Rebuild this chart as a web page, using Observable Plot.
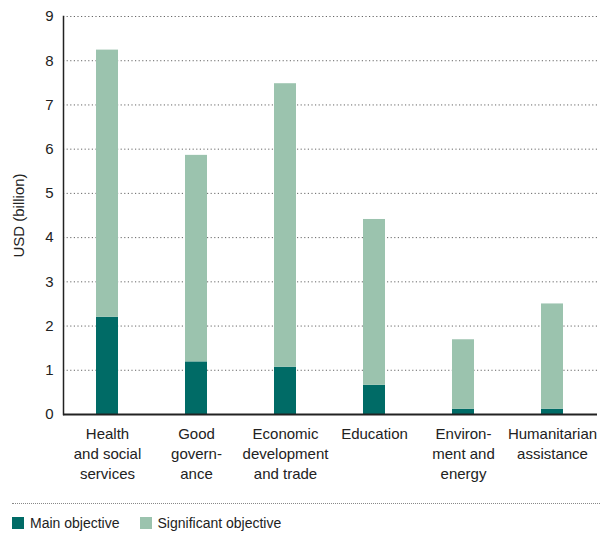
<!DOCTYPE html>
<html>
<head>
<meta charset="utf-8">
<script src="https://cdn.jsdelivr.net/npm/d3@7"></script>
<script src="https://cdn.jsdelivr.net/npm/@observablehq/plot@0.6"></script>
<style>
  body { margin: 0; background: #fff; font-family: "Liberation Sans", Arial, sans-serif; }
  #chart { width: 614px; }
  .rule { margin: 13px 14px 0 12px; border-top: 1.5px dotted #888; height: 0; }
  .legend { display: flex; align-items: center; margin: 11px 0 0 12px; font-size: 14px; color: #222; }
  .legend .sw { width: 12px; height: 12px; display: inline-block; margin-right: 6px; }
  .legend .item { display: flex; align-items: center; margin-right: 20px; }
</style>
</head>
<body>
<div id="chart"></div>
<script>
const categories = [
  "Health\nand social\nservices",
  "Good\ngovern-\nance",
  "Economic\ndevelopment\nand trade",
  "Education",
  "Environ-\nment and\nenergy",
  "Humanitarian\nassistance"
];
const mainObjective = [2.2, 1.19, 1.07, 0.66, 0.12, 0.12];
const totalObjective = [8.24, 5.86, 7.48, 4.41, 1.69, 2.5];
const significantObjective = totalObjective.map((t, i) => +(t - mainObjective[i]).toFixed(2));
const seriesNames = ["Main objective", "Significant objective"];
const seriesColors = ["#006B66", "#9BC3AE"];
const yTicks = [0, 1, 2, 3, 4, 5, 6, 7, 8, 9];

const data = [];
categories.forEach((c, i) => {
  data.push({category: c, series: seriesNames[0], value: mainObjective[i]});
  data.push({category: c, series: seriesNames[1], value: significantObjective[i]});
});

const plot = Plot.plot({
  width: 614,
  height: 490,
  marginTop: 16,
  marginBottom: 76,
  marginLeft: 63,
  marginRight: 17,
  style: {fontFamily: "Liberation Sans, Arial, sans-serif", fontSize: "14px", color: "#222"},
  x: {domain: categories, paddingInner: 0.75, paddingOuter: 0.375, align: 0.5},
  y: {domain: [0, 9], ticks: yTicks},
  color: {domain: seriesNames, range: seriesColors},
  marks: [
    Plot.gridY(yTicks, {stroke: "#666", strokeOpacity: 1, strokeDasharray: "1.2,2.4", strokeWidth: 1}),
    Plot.barY(data, {x: "category", y: "value", fill: "series", order: seriesNames}),
    Plot.axisY(yTicks, {tickSize: 0, tickPadding: 10, fontSize: 15, label: "USD (billion)", labelAnchor: "center", labelArrow: "none", labelOffset: 50}),
    Plot.axisX({tickSize: 0, tickPadding: 10, fontSize: 15, lineHeight: 1.33, label: null}),
    Plot.ruleY([0], {stroke: "#222", strokeWidth: 2}),
    Plot.frame({anchor: "left", stroke: "#222", strokeWidth: 1.5})
  ]
});
document.getElementById("chart").appendChild(plot);

const rule = document.createElement("div");
rule.className = "rule";
document.getElementById("chart").appendChild(rule);
const legend = document.createElement("div");
legend.className = "legend";
seriesNames.forEach((n, i) => {
  const it = document.createElement("span");
  it.className = "item";
  const sw = document.createElement("span");
  sw.className = "sw";
  sw.style.background = seriesColors[i];
  it.appendChild(sw);
  it.appendChild(document.createTextNode(n));
  legend.appendChild(it);
});
document.getElementById("chart").appendChild(legend);
</script>
</body>
</html>
